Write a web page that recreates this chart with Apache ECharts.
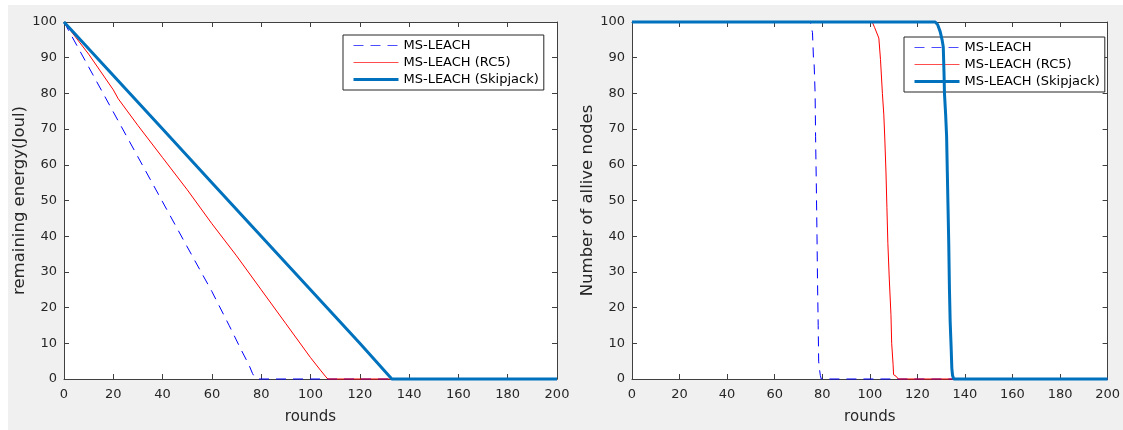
<!DOCTYPE html>
<html>
<head>
<meta charset="utf-8">
<script src="https://cdn.jsdelivr.net/npm/echarts@6/dist/echarts.min.js"></script>
<style>
  html, body { margin: 0; padding: 0; background: #ffffff; }
  #chart { position: absolute; left: 8px; top: 5px; width: 1115px; height: 425px; background: #f0f0f0; }
</style>
</head>
<body>
<div id="chart"></div>
<script>
// ---------- data ----------
const seriesNames = ['MS-LEACH', 'MS-LEACH (RC5)', 'MS-LEACH (Skipjack)'];
const xTicks = [0, 20, 40, 60, 80, 100, 120, 140, 160, 180, 200];
const yTicks = [0, 10, 20, 30, 40, 50, 60, 70, 80, 90, 100];

// Left panel: remaining energy (Joul) vs rounds
const energyLeachX = [0, 10, 20, 30, 40, 50, 60, 67, 72, 75, 76.5, 77.5, 79, 200];
const energyLeachY = [100, 87.4, 74.8, 62.2, 49.6, 37, 24.5, 15, 8, 4, 1.5, 0.4, 0, 0];
const energyRc5X = [0, 5, 10, 15, 20, 22, 30, 40, 50, 60, 70, 80, 90, 100, 104, 106, 107, 200];
const energyRc5Y = [100, 95.5, 91, 86, 81, 78.5, 71, 62, 53, 43.5, 34.5, 25, 15.5, 6, 2.5, 0.8, 0, 0];
const energySkipX = [0, 20, 40, 60, 80, 100, 120, 133, 200];
const energySkipY = [100, 85, 70, 55, 40, 25, 10, 0, 0];

// Right panel: number of alive nodes vs rounds
const aliveLeachX = [0, 75, 75.3, 75.9, 76.3, 76.6, 77, 77.2, 77.5, 77.8, 78, 78.3, 78.5, 78.8, 79.2, 79.6, 200];
const aliveLeachY = [100, 100, 99, 97, 90, 88, 80, 68, 55, 40, 28, 15, 5, 3, 1, 0, 0];
const aliveRc5X = [0, 101, 102, 103.8, 104.5, 105.3, 105.9, 106.3, 106.8, 107.2, 107.6, 108.2, 108.9, 109.2, 109.8, 110, 111, 112, 200];
const aliveRc5Y = [100, 100, 98.5, 95.5, 89.5, 80, 74, 67.5, 58, 48, 38, 28, 18, 10, 4, 1.2, 0.8, 0, 0];
const aliveSkipX = [0, 127.5, 128.5, 129.6, 130.4, 130.9, 131.2, 131.4, 131.9, 132.3, 132.6, 132.9, 133.2, 133.5, 133.8, 134.2, 134.5, 134.8, 135.3, 200];
const aliveSkipY = [100, 100, 99.3, 97.3, 95, 93, 86, 80, 74, 68, 58, 48, 38, 25, 16, 9, 3, 1, 0, 0];

const leftYName = 'remaining energy(Joul)';
const rightYName = 'Number of allive nodes';
const xName = 'rounds';

// ---------- chart ----------
const FONT = 'DejaVu Sans';
const AXIS_COLOR = '#404040';
const TEXT_COLOR = '#262626';
const zip = (xs, ys) => xs.map((x, i) => [x, ys[i]]);

function xAxisPair(gridIndex) {
  return [
    {
      type: 'value', gridIndex, position: 'bottom', min: xTicks[0], max: xTicks[xTicks.length - 1], interval: 20,
      name: xName, nameLocation: 'middle', nameGap: 31,
      nameTextStyle: { fontFamily: FONT, fontSize: 15, color: TEXT_COLOR },
      axisLine: { show: true, onZero: false, lineStyle: { color: AXIS_COLOR, width: 1 } },
      axisTick: { show: true, inside: true, length: 5, lineStyle: { color: AXIS_COLOR } },
      axisLabel: { show: true, margin: 9, fontFamily: FONT, fontSize: 13, color: TEXT_COLOR },
      splitLine: { show: false }
    },
    {
      type: 'value', gridIndex, position: 'top', min: xTicks[0], max: xTicks[xTicks.length - 1], interval: 20,
      axisLine: { show: true, onZero: false, lineStyle: { color: AXIS_COLOR, width: 1 } },
      axisTick: { show: true, inside: true, length: 5, lineStyle: { color: AXIS_COLOR } },
      axisLabel: { show: false }, splitLine: { show: false }
    }
  ];
}
function yAxisPair(gridIndex, name) {
  return [
    {
      type: 'value', gridIndex, position: 'left', min: yTicks[0], max: yTicks[yTicks.length - 1], interval: 10,
      name, nameLocation: 'middle', nameGap: 34,
      nameTextStyle: { fontFamily: FONT, fontSize: 16.5, color: TEXT_COLOR },
      axisLine: { show: true, onZero: false, lineStyle: { color: AXIS_COLOR, width: 1 } },
      axisTick: { show: true, inside: true, length: 5, lineStyle: { color: AXIS_COLOR } },
      axisLabel: { show: true, margin: 7, fontFamily: FONT, fontSize: 13, color: TEXT_COLOR },
      splitLine: { show: false }
    },
    {
      type: 'value', gridIndex, position: 'right', min: yTicks[0], max: yTicks[yTicks.length - 1], interval: 10,
      axisLine: { show: true, onZero: false, lineStyle: { color: AXIS_COLOR, width: 1 } },
      axisTick: { show: true, inside: true, length: 5, lineStyle: { color: AXIS_COLOR } },
      axisLabel: { show: false }, splitLine: { show: false }
    }
  ];
}

const styles = [
  { color: '#0000ff', legendColor: '#4d4dff', width: 1, type: [10, 7], z: 2 },
  { color: '#ff0000', legendColor: '#ff4d4d', width: 1, type: 'solid', z: 3 },
  { color: '#0072bd', legendColor: '#0072bd', width: 3, type: 'solid', z: 4 }
];
function makeSeries(idx, xIndex, yIndex, xs, ys) {
  const s = styles[idx];
  return {
    type: 'line', name: seriesNames[idx], xAxisIndex: xIndex, yAxisIndex: yIndex,
    data: zip(xs, ys), showSymbol: false, symbol: 'none', clip: false, z: s.z,
    lineStyle: { color: s.color, width: s.width, type: s.type },
    itemStyle: { color: s.color },
    emphasis: { disabled: true }, animation: false
  };
}
function legendAt(left, top) {
  return {
    left, top, orient: 'vertical',
    data: seriesNames.map((n, i) => ({
      name: n,
      lineStyle: { width: styles[i].width, color: styles[i].legendColor, type: styles[i].type }
    })),
    itemStyle: { opacity: 0, borderWidth: 0 },
    backgroundColor: '#ffffff', borderColor: '#262626', borderWidth: 1, borderRadius: 0,
    padding: [4, 5, 4, 9], itemWidth: 45, itemHeight: 14, itemGap: 4,
    textStyle: { fontFamily: FONT, fontSize: 13, color: '#000000', padding: [0, 0, 0, 0] },
    selectedMode: false
  };
}

const chart = echarts.init(document.getElementById('chart'), null, { renderer: 'canvas' });
chart.setOption({
  animation: false,
  backgroundColor: 'transparent',
  grid: [
    { left: 56, top: 17, width: 493, height: 362, show: true, backgroundColor: '#ffffff', borderWidth: 0, containLabel: false },
    { left: 624, top: 17, width: 478, height: 363, show: true, backgroundColor: '#ffffff', borderWidth: 0, containLabel: false }
  ],
  xAxis: [...xAxisPair(0), ...xAxisPair(1)],
  yAxis: [...yAxisPair(0, leftYName), ...yAxisPair(1, rightYName)],
  legend: [legendAt(335, 30), legendAt(896, 32)],
  series: [
    makeSeries(0, 0, 0, energyLeachX, energyLeachY),
    makeSeries(1, 0, 0, energyRc5X, energyRc5Y),
    makeSeries(2, 0, 0, energySkipX, energySkipY),
    makeSeries(0, 2, 2, aliveLeachX, aliveLeachY),
    makeSeries(1, 2, 2, aliveRc5X, aliveRc5Y),
    makeSeries(2, 2, 2, aliveSkipX, aliveSkipY)
  ]
});
</script>
</body>
</html>
